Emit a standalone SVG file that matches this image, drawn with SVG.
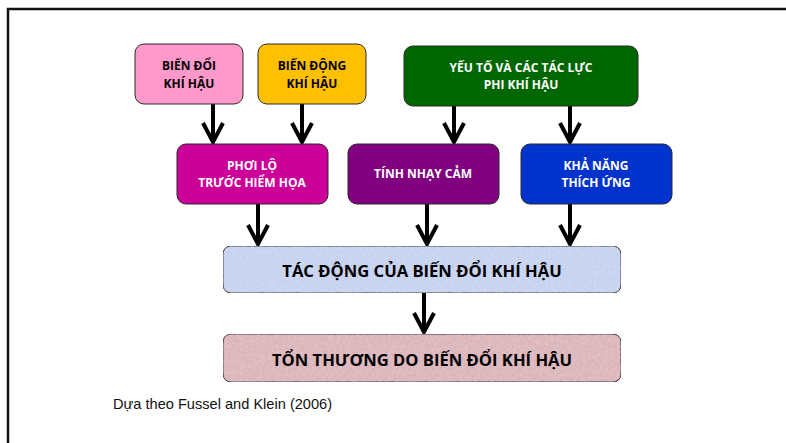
<svg xmlns="http://www.w3.org/2000/svg" width="786" height="443" viewBox="0 0 786 443">
<style>
.box{stroke:#2a2a2a;stroke-width:1}
.t{font-family:"Open Sans","Noto Sans","DejaVu Sans",sans-serif;font-weight:bold;text-anchor:middle}
.s{font-size:12px}
.b{font-size:16.6px;fill:#000}
.w{fill:#fff}
.k{fill:#000}
.ar{fill:none;stroke:#000;stroke-width:4}
.cap{font-family:"Liberation Sans",Arial,sans-serif;font-size:14.6px;fill:#111}
</style>
<defs>
<filter id="tex" x="0" y="0" width="100%" height="100%">
<feTurbulence type="fractalNoise" baseFrequency="0.35" numOctaves="2" seed="3" result="n"/>
<feColorMatrix in="n" type="matrix" values="0 0 0 0 0.95  0 0 0 0 0.8  0 0 0 0 0.95  0 0 0 0.4 -0.1" result="nw"/>
<feComposite in="nw" in2="SourceGraphic" operator="atop" result="c"/>
<feMerge><feMergeNode in="SourceGraphic"/><feMergeNode in="c"/></feMerge>
</filter>
</defs>
<rect width="786" height="443" fill="#fff"/>
<path d="M8,443 V9 H786" fill="none" stroke="#111" stroke-width="2.5"/>

<g id="connectors">
<path class="ar" d="M213,104 V142 M203,123 L213,142 L223,123"/>
<path class="ar" d="M302,104 V142 M292,123 L302,142 L312,123"/>
<path class="ar" d="M454,106 V142 M444,123 L454,142 L464,123"/>
<path class="ar" d="M570,106 V142 M560,123 L570,142 L580,123"/>
<path class="ar" d="M258,204 V244 M248,225 L258,244 L268,225"/>
<path class="ar" d="M427,204 V244 M417,225 L427,244 L437,225"/>
<path class="ar" d="M570,204 V244 M560,225 L570,244 L580,225"/>
<path class="ar" d="M424,293 V332 M414,313 L424,332 L434,313"/>
</g>

<g id="bien-doi">
<rect class="box" x="135" y="44" width="108" height="60" rx="9" fill="#FF99CC"/>
<text class="t s k" x="189" y="70">BIẾN ĐỔI</text>
<text class="t s k" x="189" y="88">KHÍ HẬU</text>
</g>
<g id="bien-dong">
<rect class="box" x="258" y="44" width="108" height="60" rx="9" fill="#FFC000"/>
<text class="t s k" x="312" y="70">BIẾN ĐỘNG</text>
<text class="t s k" x="312" y="88">KHÍ HẬU</text>
</g>
<g id="yeu-to">
<rect class="box" x="404" y="46" width="234" height="60" rx="9" fill="#006600"/>
<text class="t s w" x="521" y="72">YẾU TỐ VÀ CÁC TÁC LỰC</text>
<text class="t s w" x="521" y="89">PHI KHÍ HẬU</text>
</g>
<g id="phoi-lo">
<rect class="box" x="177" y="144" width="151" height="60" rx="9" fill="#CC0099"/>
<text class="t s w" x="252" y="170">PHƠI LỘ</text>
<text class="t s w" x="252" y="187">TRƯỚC HIỂM HỌA</text>
</g>
<g id="nhay-cam">
<rect class="box" x="348" y="144" width="151" height="60" rx="9" fill="#800080"/>
<text class="t s w" x="423" y="178">TÍNH NHẠY CẢM</text>
</g>
<g id="kha-nang">
<rect class="box" x="521" y="144" width="151" height="60" rx="9" fill="#0033CC"/>
<text class="t s w" x="596" y="170">KHẢ NĂNG</text>
<text class="t s w" x="596" y="187">THÍCH ỨNG</text>
</g>
<g id="tac-dong">
<rect class="box" x="223" y="246" width="398" height="47" rx="8" fill="#C3D2F0" filter="url(#tex)"/>
<text class="t b" x="422" y="277">TÁC ĐỘNG CỦA BIẾN ĐỔI KHÍ HẬU</text>
</g>
<g id="ton-thuong">
<rect class="box" x="223" y="334" width="398" height="48" rx="8" fill="#DAB3B6" filter="url(#tex)"/>
<text class="t b" x="422" y="366">TỔN THƯƠNG DO BIẾN ĐỔI KHÍ HẬU</text>
</g>
<text class="cap" x="113" y="409">Dựa theo Fussel and Klein (2006)</text>
</svg>
